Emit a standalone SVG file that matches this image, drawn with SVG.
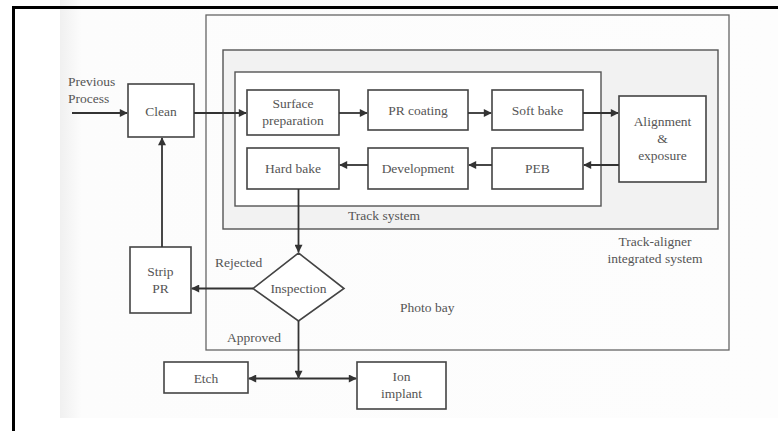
<svg xmlns="http://www.w3.org/2000/svg" width="778" height="431" viewBox="0 0 778 431">
<defs>
<style>
.box{fill:#fff;stroke:#444;stroke-width:1.6}
.cont{fill:none;stroke:#666;stroke-width:1.3}
.ln{fill:none;stroke:#333;stroke-width:1.8}
text{font-family:"Liberation Serif","Times New Roman",serif;font-size:13.5px;fill:#555}
.c{text-anchor:middle}
</style>
<marker id="ah" viewBox="0 0 10 10" refX="9" refY="5" markerWidth="10" markerHeight="8" markerUnits="userSpaceOnUse" orient="auto">
<path d="M0,0 L10,5 L0,10 z" fill="#333"/>
</marker>
<linearGradient id="pg" x1="0" x2="1" y1="0" y2="0">
<stop offset="0" stop-color="#f0f0f0"/>
<stop offset="0.03" stop-color="#fcfcfc"/>
<stop offset="1" stop-color="#fdfdfd"/>
</linearGradient>
</defs>
<rect x="0" y="0" width="778" height="431" fill="#fff"/>
<rect x="60" y="0" width="718" height="418" fill="url(#pg)"/>
<path d="M13.5,431 V7.5 H778" fill="none" stroke="#000" stroke-width="3"/>

<g id="photo-bay">
<rect class="cont" x="206" y="15" width="523" height="335" fill="none"/>
<text x="400" y="312">Photo bay</text>
</g>
<g id="track-aligner">
<rect x="223" y="50" width="495" height="179" fill="#f2f2f2" stroke="#555" stroke-width="1.4"/>
<text class="c" x="655" y="246">Track-aligner</text>
<text class="c" x="655" y="263">integrated system</text>
</g>
<g id="track-system">
<rect x="235" y="72" width="366" height="134" fill="#fff" stroke="#555" stroke-width="1.4"/>
<text x="348" y="220">Track system</text>
</g>

<g id="previous-process">
<text x="68" y="86">Previous</text>
<text x="68" y="103">Process</text>
</g>
<g id="clean">
<rect class="box" x="128" y="84" width="66" height="53"/>
<text class="c" x="161" y="116">Clean</text>
</g>
<g id="surface-preparation">
<rect class="box" x="247" y="90" width="92" height="45"/>
<text class="c" x="293" y="108">Surface</text>
<text class="c" x="293" y="125">preparation</text>
</g>
<g id="pr-coating">
<rect class="box" x="368" y="90" width="100" height="40"/>
<text class="c" x="418" y="115">PR coating</text>
</g>
<g id="soft-bake">
<rect class="box" x="492" y="90" width="91" height="40"/>
<text class="c" x="537.5" y="115">Soft bake</text>
</g>
<g id="alignment-exposure">
<rect class="box" x="619" y="96" width="87" height="86"/>
<text class="c" x="662.5" y="126">Alignment</text>
<text class="c" x="662.5" y="143">&amp;</text>
<text class="c" x="662.5" y="160">exposure</text>
</g>
<g id="peb">
<rect class="box" x="492" y="148" width="91" height="41"/>
<text class="c" x="537.5" y="173">PEB</text>
</g>
<g id="development">
<rect class="box" x="368" y="148" width="100" height="41"/>
<text class="c" x="418" y="173">Development</text>
</g>
<g id="hard-bake">
<rect class="box" x="247" y="148" width="92" height="41"/>
<text class="c" x="293" y="173">Hard bake</text>
</g>
<g id="inspection">
<polygon points="298.5,253 344,288.5 298.5,321 253,288.5" fill="#fff" stroke="#444" stroke-width="1.6"/>
<text class="c" x="298.5" y="293">Inspection</text>
</g>
<g id="strip-pr">
<rect class="box" x="130" y="247" width="61" height="66"/>
<text class="c" x="160.5" y="276">Strip</text>
<text class="c" x="160.5" y="293">PR</text>
</g>
<g id="etch">
<rect class="box" x="164" y="362" width="84" height="31"/>
<text class="c" x="206" y="383">Etch</text>
</g>
<g id="ion-implant">
<rect class="box" x="357" y="362" width="89" height="47"/>
<text class="c" x="401.5" y="381">Ion</text>
<text class="c" x="401.5" y="398">implant</text>
</g>

<g id="connectors">
<line class="ln" x1="72" y1="113" x2="127" y2="113" marker-end="url(#ah)"/>
<line class="ln" x1="194" y1="113" x2="246" y2="113" marker-end="url(#ah)"/>
<line class="ln" x1="339" y1="113" x2="367" y2="113" marker-end="url(#ah)"/>
<line class="ln" x1="468" y1="113" x2="491" y2="113" marker-end="url(#ah)"/>
<line class="ln" x1="583" y1="113" x2="618" y2="113" marker-end="url(#ah)"/>
<line class="ln" x1="619" y1="165" x2="584" y2="165" marker-end="url(#ah)"/>
<line class="ln" x1="492" y1="165" x2="469" y2="165" marker-end="url(#ah)"/>
<line class="ln" x1="368" y1="165" x2="340" y2="165" marker-end="url(#ah)"/>
<line class="ln" x1="298.5" y1="189" x2="298.5" y2="252" marker-end="url(#ah)"/>
<line class="ln" x1="253" y1="288.5" x2="192" y2="288.5" marker-end="url(#ah)"/>
<line class="ln" x1="162" y1="247" x2="162" y2="138" marker-end="url(#ah)"/>
<line class="ln" x1="298.5" y1="321" x2="298.5" y2="378" marker-end="url(#ah)"/>
<line class="ln" x1="298.5" y1="378.5" x2="249" y2="378.5" marker-end="url(#ah)"/>
<line class="ln" x1="298.5" y1="378.5" x2="356" y2="378.5" marker-end="url(#ah)"/>
<text x="215" y="267">Rejected</text>
<text x="227" y="342">Approved</text>
</g>
</svg>
